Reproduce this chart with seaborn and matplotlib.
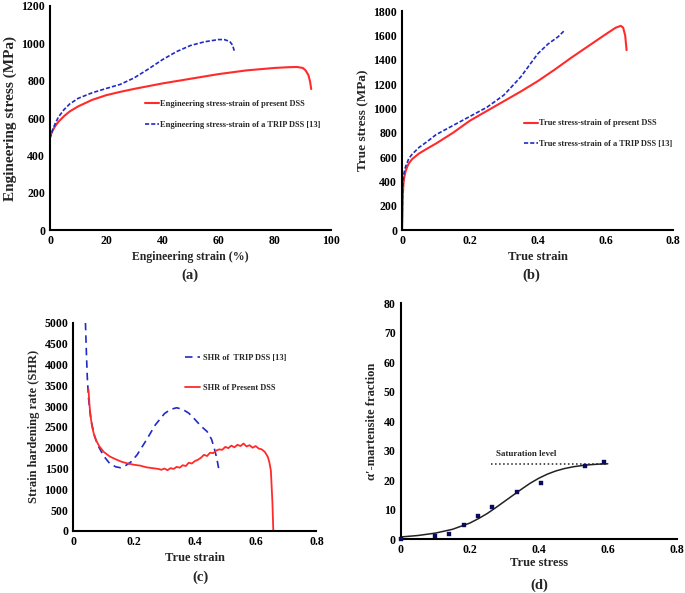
import matplotlib
matplotlib.use("Agg")
import matplotlib.pyplot as plt
import pandas as pd
import seaborn as sns

# ---------------------------------------------------------------------------
# Data
# ---------------------------------------------------------------------------

# (a) engineering stress-strain
eng_strain_dss = [0, 1, 2, 3, 5, 7, 10, 15, 20, 25, 30, 40, 50, 60, 70, 80, 85, 88, 90, 91, 92, 92.6, 93]
eng_stress_dss = [500, 535, 560, 580, 610, 635, 662, 697, 722, 740, 756, 785, 810, 835, 855, 868, 872, 873, 868, 855, 830, 795, 755]
eng_strain_trip = [0, 1, 2, 3, 5, 7, 10, 15, 20, 25, 30, 35, 40, 45, 50, 55, 60, 62, 64, 65, 65.6]
eng_stress_trip = [490, 540, 575, 605, 645, 675, 705, 735, 758, 780, 815, 862, 912, 955, 988, 1008, 1020, 1020, 1010, 990, 960]

# (b) true stress-strain
true_strain_dss = [0, 0.001, 0.002, 0.004, 0.006, 0.01, 0.015, 0.02, 0.03, 0.05, 0.075, 0.1, 0.15, 0.2, 0.25,
                   0.3, 0.35, 0.4, 0.45, 0.5, 0.55, 0.6, 0.63, 0.645, 0.652, 0.658, 0.662]
true_stress_dss = [0, 150, 290, 380, 430, 480, 520, 550, 585, 630, 672, 712, 800, 900, 980,
                   1060, 1140, 1225, 1320, 1420, 1515, 1610, 1665, 1680, 1665, 1600, 1480]
true_strain_trip = [0, 0.001, 0.003, 0.005, 0.01, 0.02, 0.03, 0.05, 0.075, 0.1, 0.15, 0.2, 0.25,
                    0.3, 0.35, 0.4, 0.43, 0.46, 0.48]
true_stress_trip = [0, 250, 400, 460, 520, 590, 625, 680, 730, 785, 860, 935, 1010,
                    1110, 1260, 1450, 1530, 1590, 1645]

# (c) strain hardening rate
shr_strain_trip = [0.04, 0.043, 0.046, 0.05, 0.055, 0.06, 0.07, 0.08, 0.1, 0.12, 0.14, 0.155, 0.17, 0.19,
                   0.21, 0.24, 0.27, 0.3, 0.32, 0.34, 0.36, 0.38, 0.4, 0.42, 0.44, 0.455, 0.465, 0.472, 0.478]
shr_rate_trip = [5000, 4300, 3700, 3200, 2850, 2600, 2280, 2070, 1800, 1620, 1540, 1520, 1560, 1660,
                 1830, 2180, 2550, 2820, 2920, 2960, 2920, 2830, 2680, 2520, 2390, 2200, 1950, 1750, 1510]
shr_strain_dss = [0.05, 0.053, 0.057, 0.062, 0.068, 0.075, 0.085, 0.1, 0.12, 0.14, 0.16, 0.18, 0.2, 0.22,
                  0.24, 0.26, 0.28, 0.29, 0.3, 0.31, 0.32, 0.33, 0.34, 0.35, 0.36, 0.37, 0.38, 0.39, 0.4,
                  0.41, 0.42, 0.43, 0.44, 0.45, 0.46, 0.47, 0.48, 0.49, 0.5, 0.51, 0.52, 0.53, 0.54, 0.55,
                  0.56, 0.57, 0.58, 0.59, 0.6, 0.61, 0.62, 0.63, 0.64, 0.645, 0.65, 0.655, 0.658]
shr_rate_dss = [3400, 3050, 2750, 2500, 2320, 2180, 2040, 1900, 1790, 1720, 1660, 1620, 1590, 1570,
                1530, 1510, 1490, 1470, 1500, 1460, 1510, 1490, 1540, 1520, 1580, 1560, 1640, 1620, 1680,
                1710, 1760, 1830, 1800, 1880, 1870, 1930, 1960, 1950, 2020, 1990, 2050, 2010, 2070, 2040,
                2100, 2030, 2060, 2000, 2040, 1980, 1960, 1900, 1780, 1650, 1450, 700, 0]

# (d) alpha'-martensite fraction
mart_x = [0.0, 0.098, 0.141, 0.184, 0.225, 0.264, 0.338, 0.407, 0.533, 0.589]
mart_y = [0.0, 0.9, 1.8, 4.8, 7.9, 10.9, 15.9, 18.9, 24.9, 26.0]
fit_x = [0.0, 0.05, 0.1, 0.15, 0.2, 0.225, 0.25, 0.275, 0.3, 0.325, 0.35, 0.375, 0.4, 0.425,
         0.45, 0.475, 0.5, 0.525, 0.55, 0.575, 0.6]
fit_y = [0.7, 1.2, 2.0, 3.3, 5.4, 6.9, 8.6, 10.6, 12.7, 14.8, 16.9, 18.9, 20.6, 22.0,
         23.1, 23.9, 24.5, 24.9, 25.2, 25.4, 25.5]
sat_x = [0.262, 0.6]
sat_y = [25.3, 25.3]

RED = "#ff2b2b"
BLUE = "#1f2bc4"
NAVY = "#0b0b5e"

# ---------------------------------------------------------------------------
# Style
# ---------------------------------------------------------------------------

sns.set_style("white")
plt.rcParams["font.family"] = ["Liberation Serif", "DejaVu Serif"]
plt.rcParams["font.weight"] = "bold"
plt.rcParams["axes.labelweight"] = "bold"

fig = plt.figure(figsize=(6.85, 5.93), dpi=100)

TICK_FS = 8.5
LEG = {"weight": "bold", "size": 6}


def style_axes(ax, xlim, ylim, xticks, yticks, xfmt, yfmt):
    ax.set_xlim(*xlim)
    ax.set_ylim(*ylim)
    ax.set_xticks(xticks)
    ax.set_yticks(yticks)
    ax.set_xticklabels([xfmt(v) for v in xticks], fontsize=TICK_FS, fontweight="bold")
    ax.set_yticklabels([yfmt(v) for v in yticks], fontsize=TICK_FS, fontweight="bold")
    for s in ["top", "right"]:
        ax.spines[s].set_visible(False)
    for s in ["left", "bottom"]:
        ax.spines[s].set_color("black")
        ax.spines[s].set_linewidth(1.5)
    ax.tick_params(direction="inout", length=3, width=1, pad=2, colors="black")


def dec(v):
    return "0" if v == 0 else f"{v:.1f}"


# ---------------------------------------------------------------------------
# (a) engineering stress-strain
# ---------------------------------------------------------------------------
ax = fig.add_axes([0.073, 0.612, 0.410, 0.378])
sns.lineplot(x=eng_strain_dss, y=eng_stress_dss, ax=ax, color=RED, linewidth=1.5, sort=False,
             label="Engineering stress-strain of present DSS")
sns.lineplot(x=eng_strain_trip, y=eng_stress_trip, ax=ax, color=BLUE, linewidth=1.2, sort=False,
             dashes=(2.5, 1.2), label="Engineering stress-strain of a TRIP DSS [13]")
style_axes(ax, (0, 100), (0, 1200), range(0, 101, 20), range(0, 1201, 200), str, str)
ax.set_xlabel("Engineering strain (%)", fontsize=8.5, labelpad=3)
ax.set_ylabel("Engineering stress (MPa)", fontsize=11, labelpad=3)
ax.legend(loc="upper left", bbox_to_anchor=(0.31, 0.615), frameon=False,
          handlelength=1.7, handletextpad=0.2, labelspacing=1.6, prop=LEG)
fig.text(0.277, 0.535, "(a)", fontsize=10.5, fontweight="bold", ha="center", va="center")

# ---------------------------------------------------------------------------
# (b) true stress-strain
# ---------------------------------------------------------------------------
ax = fig.add_axes([0.587, 0.612, 0.396, 0.369])
sns.lineplot(x=true_strain_dss, y=true_stress_dss, ax=ax, color=RED, linewidth=1.5, sort=False,
             label="True stress-strain of present DSS")
sns.lineplot(x=true_strain_trip, y=true_stress_trip, ax=ax, color=BLUE, linewidth=1.2, sort=False,
             dashes=(2.5, 1.2), label="True stress-strain of a TRIP DSS [13]")
style_axes(ax, (0, 0.8), (0, 1800), [0, 0.2, 0.4, 0.6, 0.8], range(0, 1801, 200), dec, str)
ax.set_xlabel("True strain", fontsize=9, labelpad=3)
ax.set_ylabel("True stress (MPa)", fontsize=9.5, labelpad=3)
ax.legend(loc="upper left", bbox_to_anchor=(0.42, 0.54), frameon=False,
          handlelength=1.7, handletextpad=0.2, labelspacing=1.5, prop=LEG)
fig.text(0.775, 0.536, "(b)", fontsize=10.5, fontweight="bold", ha="center", va="center")

# ---------------------------------------------------------------------------
# (c) strain hardening rate
# ---------------------------------------------------------------------------
ax = fig.add_axes([0.107, 0.1046, 0.355, 0.351])
sns.lineplot(x=shr_strain_trip, y=shr_rate_trip, ax=ax, color=BLUE, linewidth=1.2, sort=False,
             dashes=(4.5, 3), label="SHR of  TRIP DSS [13]")
sns.lineplot(x=shr_strain_dss, y=shr_rate_dss, ax=ax, color=RED, linewidth=1.3, sort=False,
             label="SHR of Present DSS")
style_axes(ax, (0, 0.8), (0, 5000), [0, 0.2, 0.4, 0.6, 0.8], range(0, 5001, 500), dec, str)
ax.set_xlabel("True strain", fontsize=9, labelpad=3)
ax.set_ylabel("Strain hardening rate (SHR)", fontsize=9, labelpad=3)
ax.legend(loc="upper left", bbox_to_anchor=(0.43, 0.885), frameon=False,
          handlelength=1.8, handletextpad=0.3, labelspacing=2.6, prop=LEG)
fig.text(0.292, 0.027, "(c)", fontsize=10.5, fontweight="bold", ha="center", va="center")

# ---------------------------------------------------------------------------
# (d) alpha'-martensite fraction
# ---------------------------------------------------------------------------
ax = fig.add_axes([0.585, 0.091, 0.403, 0.398])
sns.lineplot(x=fit_x, y=fit_y, ax=ax, color="#222222", linewidth=1.1, sort=False)
sns.lineplot(x=sat_x, y=sat_y, ax=ax, color="#222222", linewidth=1.1, linestyle=":")
sns.scatterplot(x=mart_x, y=mart_y, ax=ax, color=NAVY, marker="s", s=12, edgecolor=NAVY,
                zorder=5, clip_on=False)
style_axes(ax, (0, 0.8), (0, 80), [0, 0.2, 0.4, 0.6, 0.8], range(0, 81, 10), dec, str)
ax.text(0.277, 28.8, "Saturation level", fontsize=6.5, fontweight="bold", ha="left", va="center")
ax.set_xlabel("True stress", fontsize=9, labelpad=1)
ax.set_ylabel("\u03b1\u2032-martensite fraction", fontsize=9, labelpad=4)
fig.text(0.787, 0.013, "(d)", fontsize=10.5, fontweight="bold", ha="center", va="center")

fig.savefig("out.png", dpi=100)
